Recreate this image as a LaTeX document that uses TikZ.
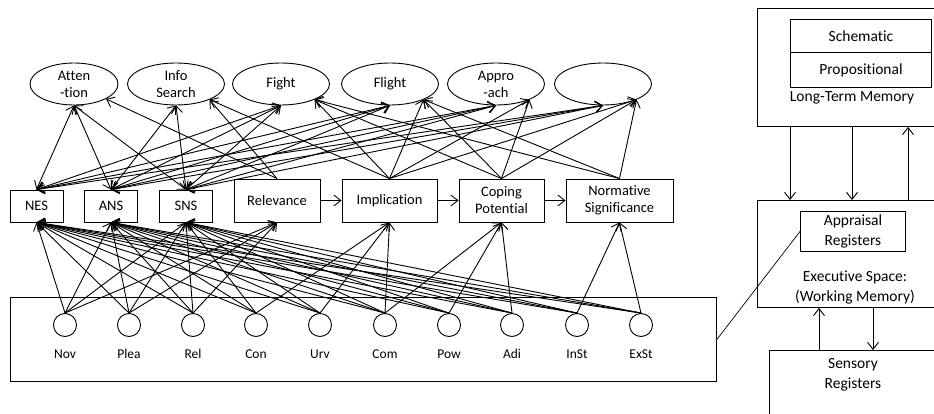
\documentclass[tikz,border=0pt]{standalone}
\usepackage{fontspec}
\setmainfont{Carlito}[Ligatures=NoCommon]
\usetikzlibrary{shapes.geometric,arrows.meta}
\begin{document}
\begin{tikzpicture}[x=1pt,y=-1pt,
  line width=0.9pt,
  every node/.style={font=\fontsize{14.5}{17}\selectfont, inner sep=0pt, align=center},
  bigfont/.style={font=\fontsize{15.5}{20}\selectfont},
  onehead/.style={-{Straight Barb[length=7pt,width=11pt]}},
  twohead/.style={{Straight Barb[length=7pt,width=11pt]}-{Straight Barb[length=7pt,width=11pt]}},
  tendency/.style={ellipse, draw, minimum width=97pt, minimum height=42pt},
  sysbox/.style={draw, minimum width=53pt, minimum height=32pt},
  checkbox/.style={draw, minimum height=43pt},
  seccircle/.style={circle, draw, minimum size=23pt},
  seclabel/.style={font=\fontsize{13.5}{16}\selectfont},
  panel/.style={draw, anchor=north west},
]
\clip (0,0) rectangle (934,414);

% action tendencies
\node[tendency, minimum width=88pt] (att) at (74,84) {Atten\\-tion};
\node[tendency] (info)   at (176,84) {Info\\Search};
\node[tendency] (fight)  at (281,84) {Fight};
\node[tendency] (flight) at (390,84) {Flight};
\node[tendency] (appr)   at (496,84) {Appro\\-ach};
\node[tendency] (blank)  at (603,84) {};

% response systems
\node[sysbox] (nes) at (36.5,206) {NES};
\node[sysbox] (ans) at (111,206) {ANS};
\node[sysbox] (sns) at (186,206) {SNS};

% appraisal objectives
\node[checkbox, minimum width=86pt]  (relv) at (277,200.5) {Relevance};
\node[checkbox, minimum width=95pt]  (impl) at (389.5,200.5) {Implication};
\node[checkbox, minimum width=85pt]  (cope) at (501.5,200.5) {Coping\\Potential};
\node[checkbox, minimum width=107pt] (norm) at (619.5,200.5) {Normative\\Significance};

\draw[onehead] (relv) -- (impl);
\draw[onehead] (impl) -- (cope);
\draw[onehead] (cope) -- (norm);

% stimulus evaluation checks
\node[panel, minimum width=706pt, minimum height=84pt] (secbox) at (10,297) {};
\foreach \n/\x/\t in {nov/65/Nov, plea/129/Plea, rel/193/Rel, con/256/Con, urv/320/Urv,
                      com/385/Com, pow/449/Pow, adi/512/Adi, inst/577/InSt, exst/641/ExSt}{
  \node[seccircle] (\n) at (\x,325) {};
  \node[seclabel] (\n-l) at (\x,354) {\t};
}

% every check feeds the three response systems
\foreach \c in {nov,plea,rel,con,urv,com,pow,adi,inst,exst}
  \foreach \b in {nes,ans,sns}
    \draw[onehead] (\c.north) -- (\b.south);

% checks grouped by appraisal objective
\foreach \c in {nov,plea,rel} \draw[onehead] (\c.north) -- (relv.south);
\foreach \c in {con,urv,com} \draw[onehead] (\c.north) -- (impl.south);
\foreach \c in {com,pow,adi} \draw[onehead] (\c.north) -- (cope.south);
\foreach \c in {inst,exst} \draw[onehead] (\c.north) -- (norm.south);

% response systems <-> action tendencies
\foreach \b/\e in {nes/att, nes/fight, nes/flight, nes/appr, nes/blank,
                   ans/att, ans/info, ans/fight, ans/flight, ans/appr, ans/blank,
                   sns/att, sns/info, sns/fight, sns/flight, sns/appr, sns/blank}
  \draw[twohead] (\b.north) -- (\e.south);

% appraisal objectives -> action tendencies
\foreach \a/\e in {relv/att, relv/info,
                   impl/info, impl/fight, impl/flight, impl/appr, impl/blank,
                   cope/fight, cope/flight, cope/appr, cope/blank,
                   norm/fight, norm/flight, norm/blank}
  \draw[onehead] (\a.north) -- (\e.-25);

% memory architecture
\node[panel, minimum width=203pt, minimum height=118pt] (ltm) at (757,8) {};
\node[panel, bigfont, minimum width=141pt, minimum height=33pt] (schem) at (790,19) {};
\node[bigfont] at (schem.center) {Schematic};
\node[panel, bigfont, minimum width=141pt, minimum height=35pt] (prop) at (790,52) {};
\node[bigfont] at (prop.center) {Propositional};
\node[bigfont] (ltmlabel) at (852,98) {Long-Term Memory};

\node[panel, minimum width=203pt, minimum height=107pt] (exec) at (757,200) {};
\node[panel, minimum width=105pt, minimum height=40pt] (apreg) at (800,211) {};
\node[bigfont] at (apreg.center) {Appraisal\\Registers};
\node[bigfont] (execlabel) at (855,287) {Executive Space:\\(Working Memory)};

\node[panel, minimum width=191pt, minimum height=80pt] (sens) at (769,350) {};
\node[bigfont] (senslabel) at (853,375) {Sensory\\Registers};

\coordinate (m1) at (790,0);
\coordinate (m2) at (852,0);
\coordinate (m3) at (908,0);
\coordinate (s1) at (819,0);
\coordinate (s2) at (873,0);
\draw[onehead] (ltm.south -| m1) -- (exec.north -| m1);
\draw[onehead] (ltm.south -| m2) -- (exec.north -| m2);
\draw[onehead] (exec.north -| m3) -- (ltm.south -| m3);
\draw[onehead] (sens.north -| s1) -- (exec.south -| s1);
\draw[onehead] (exec.south -| s2) -- (sens.north -| s2);

\draw[line width=0.7pt] (secbox.east) -- (apreg.west);
\end{tikzpicture}
\end{document}
